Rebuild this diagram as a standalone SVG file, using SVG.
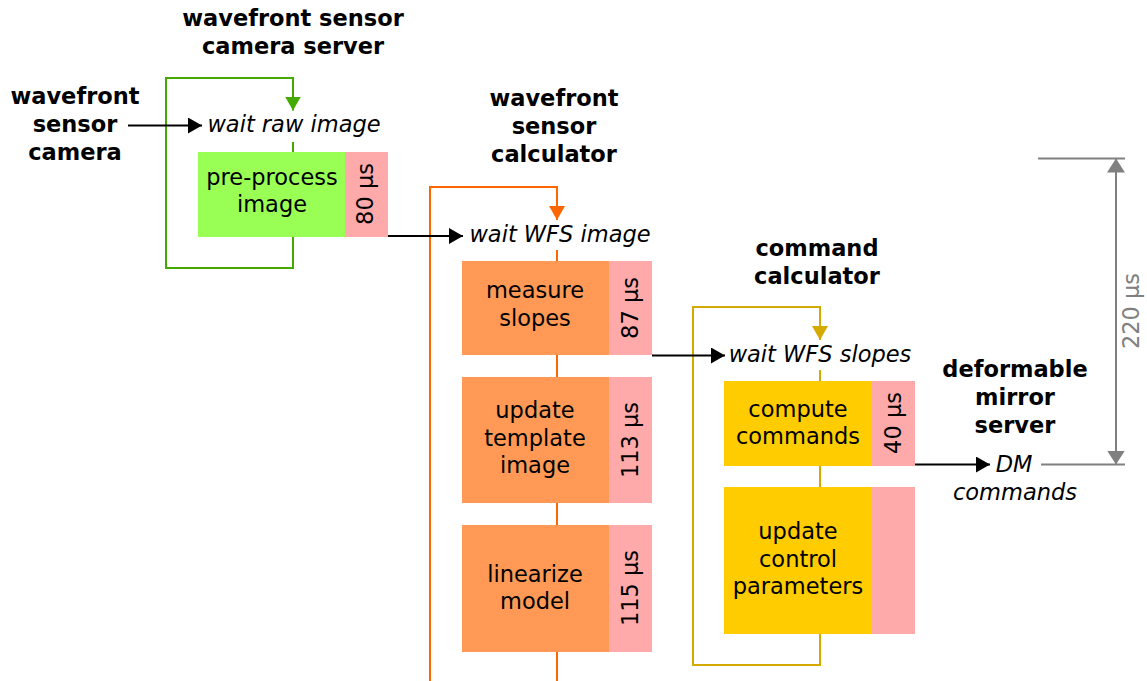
<svg xmlns="http://www.w3.org/2000/svg" width="1147" height="681" viewBox="0 0 1147 681">
<style>
text{font-family:"DejaVu Sans","Liberation Sans",sans-serif;font-size:22.5px;fill:#000}
.t{font-weight:bold;text-anchor:middle}
.c{text-anchor:middle}
.w{font-style:italic;text-anchor:middle}
.g{fill:#808080}
.pink{fill:#ffaaaa}
.gf{fill:#99ff55}
.of{fill:#ff9955}
.yf{fill:#ffcc00}
.ln{fill:none;stroke-width:2}
.gs{stroke:#44aa00}
.os{stroke:#ff6600}
.ys{stroke:#d4aa00}
.ks{stroke:#000}
.grs{stroke:#808080}
</style>
<defs>
<marker id="ak" viewBox="0 0 14 16" refX="14" refY="8" markerWidth="14" markerHeight="16" markerUnits="userSpaceOnUse" orient="auto"><path d="M0,0 L14,8 L0,16 Z" fill="#000"/></marker>
<marker id="ag" viewBox="0 0 14 16" refX="14" refY="8" markerWidth="14" markerHeight="16" markerUnits="userSpaceOnUse" orient="auto"><path d="M0,0 L14,8 L0,16 Z" fill="#44aa00"/></marker>
<marker id="ao" viewBox="0 0 14 16" refX="14" refY="8" markerWidth="14" markerHeight="16" markerUnits="userSpaceOnUse" orient="auto"><path d="M0,0 L14,8 L0,16 Z" fill="#ff6600"/></marker>
<marker id="ay" viewBox="0 0 14 16" refX="14" refY="8" markerWidth="14" markerHeight="16" markerUnits="userSpaceOnUse" orient="auto"><path d="M0,0 L14,8 L0,16 Z" fill="#d4aa00"/></marker>
<marker id="agr" viewBox="0 0 14 18" refX="14" refY="9" markerWidth="14" markerHeight="18" markerUnits="userSpaceOnUse" orient="auto-start-reverse"><path d="M0,0 L14,9 L0,18 Z" fill="#808080"/></marker>
</defs>
<rect width="1147" height="681" fill="#fff"/>

<g id="connectors">
<path class="ln gs" d="M293,237 V268 H166 V78 H293 V110.5" marker-end="url(#ag)"/>
<path class="ln gs" d="M293,142 V152"/>
<path class="ln os" d="M430,690 V187 H557 V220" marker-end="url(#ao)"/>
<path class="ln os" d="M557,250 V261 M557,355 V377 M557,503 V525 M557,652 V690"/>
<path class="ln ys" d="M820,634 V665 H693 V307 H820 V340" marker-end="url(#ay)"/>
<path class="ln ys" d="M820,370 V381 M820,466 V487"/>
<path class="ln ks" d="M128,125.5 H202" marker-end="url(#ak)"/>
<path class="ln ks" d="M388,236 H463" marker-end="url(#ak)"/>
<path class="ln ks" d="M652,355.5 H725" marker-end="url(#ak)"/>
<path class="ln ks" d="M915,464.5 H990" marker-end="url(#ak)"/>
<path class="ln grs" d="M1041,464.5 H1125 M1038,158.5 H1125"/>
<path class="ln grs" d="M1116,158.5 V464.5" marker-start="url(#agr)" marker-end="url(#agr)"/>
</g>

<g id="wfs-camera">
<text class="t" x="75" y="104">wavefront</text>
<text class="t" x="75" y="132">sensor</text>
<text class="t" x="75" y="160">camera</text>
</g>

<g id="wfs-camera-server">
<text class="t" x="293" y="26">wavefront sensor</text>
<text class="t" x="293" y="54">camera server</text>
<text class="w" x="294" y="132">wait raw image</text>
<rect class="gf" x="198" y="152" width="147" height="85"/>
<rect class="pink" x="345" y="152" width="43" height="85"/>
<text class="c" x="272" y="185">pre-process</text>
<text class="c" x="272" y="212">image</text>
<text class="c" transform="translate(365,194) rotate(-90)" y="8">80 µs</text>
</g>

<g id="wfs-calculator">
<text class="t" x="554" y="106">wavefront</text>
<text class="t" x="554" y="134">sensor</text>
<text class="t" x="554" y="162">calculator</text>
<text class="w" x="560" y="242">wait WFS image</text>
<rect class="of" x="462" y="261" width="147" height="94"/>
<rect class="pink" x="609" y="261" width="43" height="94"/>
<text class="c" x="535" y="298">measure</text>
<text class="c" x="535" y="326">slopes</text>
<text class="c" transform="translate(630,308) rotate(-90)" y="8">87 µs</text>
<rect class="of" x="462" y="377" width="147" height="126"/>
<rect class="pink" x="609" y="377" width="43" height="126"/>
<text class="c" x="535" y="418">update</text>
<text class="c" x="535" y="446">template</text>
<text class="c" x="535" y="473">image</text>
<text class="c" transform="translate(630,440) rotate(-90)" y="8">113 µs</text>
<rect class="of" x="462" y="525" width="147" height="127"/>
<rect class="pink" x="609" y="525" width="43" height="127"/>
<text class="c" x="535" y="582">linearize</text>
<text class="c" x="535" y="609">model</text>
<text class="c" transform="translate(630,588) rotate(-90)" y="8">115 µs</text>
</g>

<g id="command-calculator">
<text class="t" x="817" y="256">command</text>
<text class="t" x="817" y="284">calculator</text>
<text class="w" x="820" y="362">wait WFS slopes</text>
<rect class="yf" x="724" y="381" width="147" height="85"/>
<rect class="pink" x="871" y="381" width="44" height="85"/>
<text class="c" x="798" y="417">compute</text>
<text class="c" x="798" y="444">commands</text>
<text class="c" transform="translate(893,423) rotate(-90)" y="8">40 µs</text>
<rect class="yf" x="724" y="487" width="147" height="147"/>
<rect class="pink" x="871" y="487" width="44" height="147"/>
<text class="c" x="798" y="539">update</text>
<text class="c" x="798" y="567">control</text>
<text class="c" x="798" y="594">parameters</text>
</g>

<g id="dm-server">
<text class="t" x="1015" y="377">deformable</text>
<text class="t" x="1015" y="405">mirror</text>
<text class="t" x="1015" y="433">server</text>
<text class="w" x="1014" y="472">DM</text>
<text class="w" x="1015" y="500">commands</text>
</g>

<g id="dimension">
<text class="c g" transform="translate(1131,311) rotate(-90)" y="8">220 µs</text>
</g>
</svg>
